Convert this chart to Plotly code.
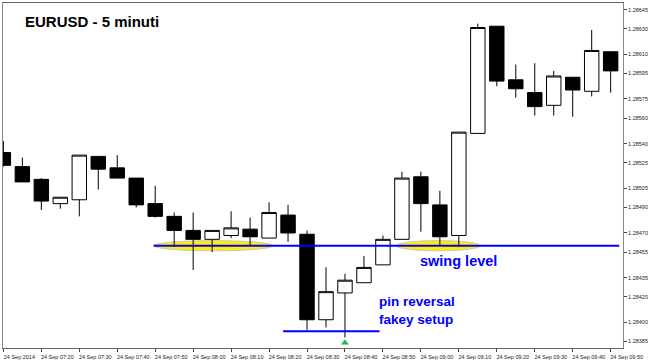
import plotly.graph_objects as go

# EURUSD 5-minute bars, 24 Sep 2014, 07:10 - 09:50
times = ["07:10", "07:15", "07:20", "07:25", "07:30", "07:35", "07:40", "07:45",
         "07:50", "07:55", "08:00", "08:05", "08:10", "08:15", "08:20", "08:25",
         "08:30", "08:35", "08:40", "08:45", "08:50", "08:55", "09:00", "09:05",
         "09:10", "09:15", "09:20", "09:25", "09:30", "09:35", "09:40", "09:45",
         "09:50"]
opens = [1.28533, 1.28522, 1.28512, 1.28493, 1.28496, 1.28530, 1.28521, 1.28513,
         1.28493, 1.28483, 1.28472, 1.28465, 1.28468, 1.28473, 1.28466, 1.28484,
         1.28469, 1.28402, 1.28423, 1.28431, 1.28445, 1.28465, 1.28514, 1.28492,
         1.28468, 1.28548, 1.28632, 1.28590, 1.28580, 1.28570, 1.28592, 1.28581,
         1.28612]
highs = [1.28542, 1.28529, 1.28513, 1.28498, 1.28531, 1.28530, 1.28531, 1.28513,
         1.28507, 1.28486, 1.28486, 1.28472, 1.28487, 1.28482, 1.28494, 1.28492,
         1.28472, 1.28443, 1.28438, 1.28452, 1.28468, 1.28518, 1.28518, 1.28503,
         1.28549, 1.28634, 1.28632, 1.28602, 1.28603, 1.28597, 1.28592, 1.28629,
         1.28612]
lows = [1.28522, 1.28510, 1.28488, 1.28489, 1.28483, 1.28504, 1.28513, 1.28490,
        1.28482, 1.28459, 1.28441, 1.28455, 1.28466, 1.28460, 1.28466, 1.28463,
        1.28394, 1.28396, 1.28388, 1.28431, 1.28445, 1.28465, 1.28471, 1.28460,
        1.28459, 1.28548, 1.28585, 1.28576, 1.28562, 1.28562, 1.28561, 1.28577,
        1.28580]
closes = [1.28523, 1.28510, 1.28495, 1.28498, 1.28531, 1.28520, 1.28513, 1.28492,
          1.28483, 1.28472, 1.28465, 1.28472, 1.28474, 1.28467, 1.28486, 1.28470,
          1.28402, 1.28424, 1.28433, 1.28443, 1.28465, 1.28513, 1.28493, 1.28467,
          1.28549, 1.28631, 1.28589, 1.28583, 1.28569, 1.28593, 1.28582, 1.28613,
          1.28597]

# price scale ticks (right side)
price_ticks = [1.28645, 1.28630, 1.28610, 1.28595, 1.28575, 1.28560, 1.28540,
               1.28525, 1.28505, 1.28490, 1.28470, 1.28455, 1.28435, 1.28420,
               1.28400, 1.28385]
# time scale: one label every two bars
time_tick_labels = ["24 Sep 2014"] + ["24 Sep " + t for t in times[2::2]]

# annotation levels
swing_level = 1.28460
pin_low_level = 1.28393
signal_arrow_price = 1.28384
pin_bar_index = 18

bar_index = list(range(len(times)))
time_tick_index = bar_index[::2]

BLUE = "#0000ff"

fig = go.Figure()

fig.add_trace(go.Candlestick(
    x=bar_index, open=opens, high=highs, low=lows, close=closes,
    increasing=dict(fillcolor="#ffffff", line=dict(color="#000000", width=1)),
    decreasing=dict(fillcolor="#000000", line=dict(color="#000000", width=1)),
    whiskerwidth=0, showlegend=False, hoverinfo="skip",
))

# buy-signal arrow under the pin bar
fig.add_trace(go.Scatter(
    x=[bar_index[pin_bar_index]], y=[signal_arrow_price], mode="markers",
    marker=dict(symbol="triangle-up", size=7, color="#2db84d",
                line=dict(width=0)),
    showlegend=False, hoverinfo="skip",
))

# highlighted touches of the swing level
for x0, x1 in [(7.92, 14.21), (20.71, 25.12)]:
    fig.add_shape(type="circle", xref="x", yref="y", layer="below",
                  x0=x0, x1=x1, y0=1.28456, y1=1.28464,
                  fillcolor="#ffee00", line=dict(color="#c8c8c8", width=1))

# swing level and pin-bar low
fig.add_shape(type="line", xref="x", yref="y", x0=7.92, x1=32.45,
              y0=swing_level, y1=swing_level, line=dict(color=BLUE, width=2))
fig.add_shape(type="line", xref="x", yref="y", x0=14.74, x1=19.82,
              y0=pin_low_level, y1=pin_low_level, line=dict(color=BLUE, width=2))

label_font = dict(family="Liberation Sans, Arial, sans-serif", size=14.5,
                  color=BLUE)
fig.add_annotation(x=21.87, y=1.28448, xref="x", yref="y", text="<b>swing level</b>",
                   showarrow=False, xanchor="left", yanchor="middle",
                   font=label_font)
fig.add_annotation(x=19.68, y=1.28409, xref="x", yref="y",
                   text="<b>pin reversal</b><br><b>fakey setup</b>",
                   showarrow=False, xanchor="left", yanchor="middle",
                   align="left",
                   font=dict(family="Liberation Sans, Arial, sans-serif",
                             size=13.5, color=BLUE))

fig.add_annotation(x=0.033, y=0.977, xref="paper", yref="paper",
                   text="<b>EURUSD - 5 minuti</b>", showarrow=False,
                   xanchor="left", yanchor="top",
                   font=dict(family="Liberation Sans, Arial, sans-serif",
                             size=15, color="#000000"))

tick_font = dict(family="Liberation Sans, Arial, sans-serif", size=5.5,
                 color="#222222")

fig.update_layout(
    width=650, height=362,
    margin=dict(l=2, r=25, t=2, b=11),
    paper_bgcolor="#ffffff", plot_bgcolor="#ffffff",
    boxgap=0.24, boxgroupgap=0,
    xaxis=dict(
        range=[-0.02, 32.65], rangeslider=dict(visible=False),
        tickmode="array", tickvals=time_tick_index, ticktext=time_tick_labels,
        ticks="outside", ticklen=3, tickcolor="#444444", tickwidth=1,
        ticklabelshift=16, ticklabelstandoff=0,
        showgrid=False, zeroline=False,
        showline=True, linecolor="#666666", linewidth=1, mirror=True,
        tickfont=tick_font, fixedrange=True,
    ),
    yaxis=dict(
        range=[1.2837986, 1.2865019], side="right",
        tickmode="array", tickvals=price_ticks,
        ticktext=[f"{p:.5f}" for p in price_ticks],
        ticks="outside", ticklen=3, tickcolor="#444444", tickwidth=1,
        showgrid=False, zeroline=False,
        showline=True, linecolor="#888888", linewidth=1, mirror=True,
        tickfont=tick_font, fixedrange=True,
    ),
)

fig.write_html("out.html")
